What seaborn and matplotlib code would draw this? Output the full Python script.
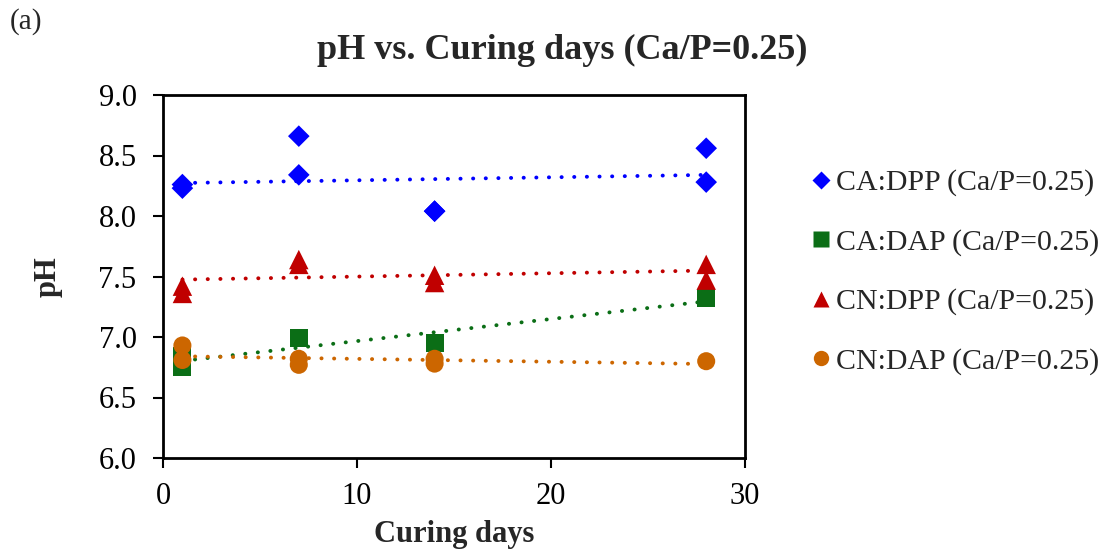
import numpy as np
import pandas as pd
import matplotlib
matplotlib.use("Agg")
import matplotlib.pyplot as plt
import seaborn as sns
from matplotlib.lines import Line2D

# ---- data ----
series_names = ["CA:DPP (Ca/P=0.25)", "CA:DAP (Ca/P=0.25)",
                "CN:DPP (Ca/P=0.25)", "CN:DAP (Ca/P=0.25)"]
days_ca_dpp = [1, 1, 7, 7, 14, 14, 28, 28]
ph_ca_dpp = [8.23, 8.26, 8.66, 8.34, 8.04, 8.04, 8.56, 8.28]
days_ca_dap = [1, 1, 7, 14, 28]
ph_ca_dap = [6.84, 6.75, 6.99, 6.95, 7.32]
days_cn_dpp = [1, 1, 7, 7, 14, 14, 28, 28]
ph_cn_dpp = [7.42, 7.36, 7.64, 7.60, 7.51, 7.45, 7.60, 7.47]
days_cn_dap = [1, 1, 7, 7, 14, 14, 28]
ph_cn_dap = [6.93, 6.81, 6.82, 6.77, 6.82, 6.78, 6.80]

colors = ["#0000FF", "#0B6E16", "#C00000", "#CC6600"]
markers = ["D", "s", "^", "o"]
msizes = [11, 13, 14, 13]

all_days = [days_ca_dpp, days_ca_dap, days_cn_dpp, days_cn_dap]
all_ph = [ph_ca_dpp, ph_ca_dap, ph_cn_dpp, ph_cn_dap]
frames = []
for name, d, p in zip(series_names, all_days, all_ph):
    frames.append(pd.DataFrame({"day": d, "pH": p, "series": name}))
df = pd.concat(frames, ignore_index=True)

sns.set_theme(style="white")
plt.rcParams["font.family"] = ["Liberation Serif", "DejaVu Serif"]

fig = plt.figure(figsize=(11.07, 5.52), dpi=100)
ax = fig.add_axes([163 / 1107, 1 - 458 / 552, (745 - 163) / 1107, (458 - 95) / 552])

for name, c, m, ms in zip(series_names, colors, markers, msizes):
    sub = df[df["series"] == name]
    sns.regplot(data=sub, x="day", y="pH", ax=ax, scatter=False, ci=None,
                truncate=True,
                line_kws=dict(color=c, lw=2.8, linestyle=(0, (0.05, 3.2)),
                              dash_capstyle="round", zorder=2))
    sns.scatterplot(data=sub, x="day", y="pH", ax=ax, color=c, marker=m,
                    s=ms ** 2, edgecolor="none", linewidth=0, zorder=3,
                    legend=False)

ax.set_xlim(0, 30)
ax.set_ylim(6.0, 9.0)
ax.set_xticks([0, 10, 20, 30])
ax.set_yticks(np.arange(6.0, 9.01, 0.5))
ax.set_yticklabels([f"{v:.1f}" for v in np.arange(6.0, 9.01, 0.5)])
ax.tick_params(axis="both", direction="out", length=7, width=1.5,
               labelsize=22, colors="black", left=True, bottom=True)
ax.tick_params(axis="x", pad=10)
ax.tick_params(axis="y", pad=12)
for s in ax.spines.values():
    s.set_color("black")
    s.set_linewidth(2)

ax.set_xlabel("Curing days", fontsize=22, fontweight="bold", labelpad=7)
ax.set_ylabel("pH", fontsize=22, fontweight="bold", labelpad=26)
fig.text(562 / 1107, 1 - 50 / 552, "pH vs. Curing days (Ca/P=0.25)",
         fontsize=26, fontweight="bold", ha="center", va="center")

fig.text(10 / 1107, 1 - 22 / 552, "(a)", fontsize=21, va="center", ha="left")

handles = [Line2D([0], [0], marker=m, color="none", markerfacecolor=c,
                  markeredgecolor="none", markersize=ms * 0.85)
           for c, m, ms in zip(colors, markers, msizes)]
fig.legend(handles, series_names, loc="center left",
           bbox_to_anchor=(800 / 1107, 1 - 272 / 552), frameon=False,
           fontsize=21.5, handlelength=0.6, handletextpad=0.2,
           labelspacing=1.08, borderaxespad=0)

fig.savefig("out.png", dpi=100, facecolor="white")
